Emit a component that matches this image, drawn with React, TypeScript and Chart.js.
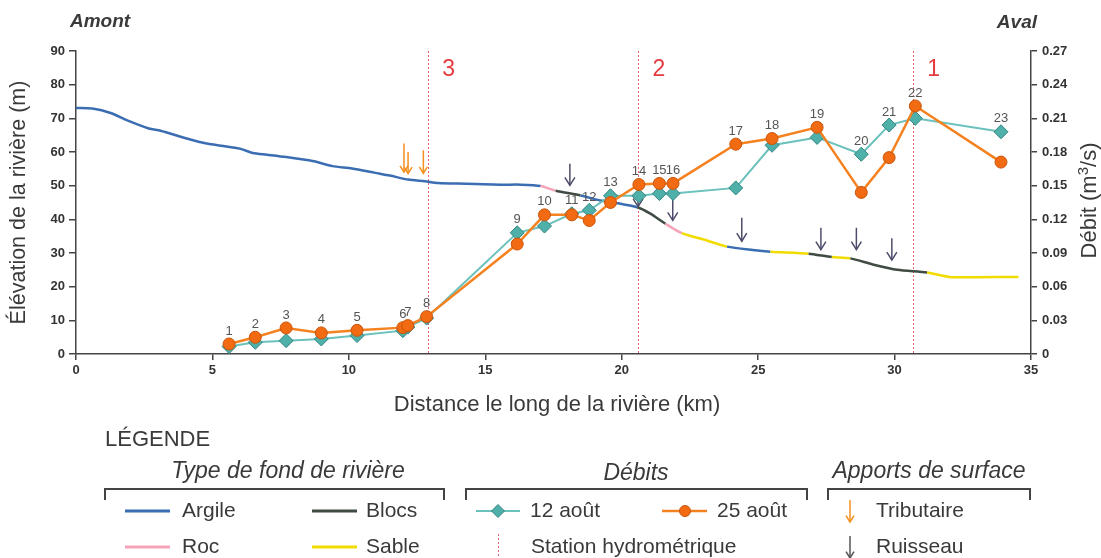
import React, { useEffect, useRef } from 'react';
import { Chart, registerables } from 'chart.js';

Chart.register(...registerables);

// Sampling stations along the river: distance (km) and discharge (m³/s)
const stationNumbers = ['1', '2', '3', '4', '5', '6', '7', '8', '9', '10', '11', '12', '13', '14', '15', '16', '17', '18', '19', '20', '21', '22', '23'];
const stationKm = [5.61, 6.57, 7.7, 8.99, 10.3, 11.98, 12.16, 12.85, 16.17, 17.17, 18.17, 18.81, 19.59, 20.63, 21.38, 21.88, 24.18, 25.51, 27.16, 28.78, 29.8, 30.76, 33.9];
const debit12Aout = [0.0066, 0.0104, 0.0119, 0.0134, 0.0164, 0.0208, 0.024, 0.032, 0.108, 0.114, 0.125, 0.128, 0.141, 0.141, 0.143, 0.143, 0.148, 0.186, 0.193, 0.178, 0.204, 0.21, 0.198];
const debit25Aout = [0.0089, 0.0149, 0.0232, 0.0188, 0.0211, 0.0235, 0.0253, 0.0333, 0.098, 0.124, 0.124, 0.119, 0.135, 0.151, 0.152, 0.152, 0.187, 0.192, 0.202, 0.144, 0.175, 0.221, 0.171];

// Longitudinal profile of the river bed: distance (km), elevation (m), bed type of the following reach
const profileKm = [0, 0.6, 1.27, 1.88, 2.67, 3.1, 4.06, 4.79, 5.4, 6.0, 6.48, 7.0, 7.7, 8.67, 9.4, 10.12, 10.97, 11.5, 12.18, 12.79, 13.27, 14.34, 15.56, 16.3, 17.03, 17.58, 18.49, 19.22, 19.96, 20.57, 21.05, 21.6, 22.2, 23.0, 23.86, 24.8, 25.45, 26.85, 27.7, 28.38, 29.2, 30.1, 31.19, 32.0, 33.0, 34.54];
const profileElev = [73.1, 72.9, 71.6, 69.4, 67.0, 66.3, 64.0, 62.5, 61.8, 61.0, 59.7, 59.2, 58.5, 57.3, 55.8, 55.1, 53.8, 53.0, 51.8, 51.3, 50.8, 50.6, 50.3, 50.3, 49.9, 48.5, 47.1, 45.6, 44.6, 43.6, 41.7, 38.7, 35.9, 34.0, 31.9, 30.9, 30.4, 29.8, 28.8, 28.4, 26.6, 25.0, 24.2, 22.9, 22.8, 22.9];
const profileBed = [
  'argile', 'argile', 'argile', 'argile', 'argile', 'argile', 'argile', 'argile', 'argile', 'argile',
  'argile', 'argile', 'argile', 'argile', 'argile', 'argile', 'argile', 'argile', 'argile', 'argile',
  'argile', 'argile', 'argile', 'argile', 'roc', 'blocs', 'argile', 'argile', 'argile', 'blocs',
  'blocs', 'roc', 'sable', 'sable', 'argile', 'argile', 'sable', 'blocs', 'sable', 'blocs',
  'blocs', 'blocs', 'sable', 'sable', 'sable', 'sable',
];

// Hydrometric stations (km) and their numbers
const hydroStationKm = [12.89, 20.59, 30.66];
const hydroStationLabels = ['3', '2', '1'];

// Surface inflows: km, elevation of arrow tail and tip (m)
const tributaryKm = [12.02, 12.17, 12.73];
const tributaryFrom = [62.5, 60.0, 60.5];
const tributaryTo = [54.0, 53.6, 53.7];
const streamKm = [18.1, 20.6, 21.87, 24.4, 27.3, 28.6, 29.9];
const streamFrom = [56.5, 50.5, 46.1, 40.5, 37.5, 37.5, 34.4];
const streamTo = [50.1, 43.8, 39.7, 33.5, 31.0, 31.0, 27.9];

const FONT = "'Liberation Sans', Arial, sans-serif";
const TEXT = '#3a3a3a';
const AXIS = '#444444';
const BED_COLORS: Record<string, string> = {
  argile: '#3b6db3',
  blocs: '#3f4b43',
  roc: '#f4a3b8',
  sable: '#f2dc00',
};
const TEAL_LINE = '#6bc1bc';
const TEAL_FILL = '#4fb0aa';
const TEAL_EDGE = '#338580';
const ORANGE_LINE = '#f58220';
const ORANGE_FILL = '#f26a12';
const ORANGE_EDGE = '#c9550c';
const STATION_RED = '#e0606e';
const ZONE_RED = '#e53a3f';
const TRIB_ORANGE = '#f5901e';
const STREAM_DARK = '#4d4d6b';

function drawArrow(ctx: CanvasRenderingContext2D, x: number, y0: number, y1: number, color: string, head = 4.5) {
  ctx.save();
  ctx.strokeStyle = color;
  ctx.lineWidth = 1.5;
  ctx.beginPath();
  ctx.moveTo(x, y0);
  ctx.lineTo(x, y1);
  ctx.stroke();
  ctx.beginPath();
  ctx.moveTo(x - head, y1 - head * 1.6);
  ctx.lineTo(x, y1);
  ctx.lineTo(x + head, y1 - head * 1.6);
  ctx.stroke();
  ctx.restore();
}

function drawText(ctx: CanvasRenderingContext2D, text: string, x: number, y: number, font: string, color: string, align: CanvasTextAlign = 'left') {
  ctx.save();
  ctx.font = font;
  ctx.fillStyle = color;
  ctx.textAlign = align;
  ctx.textBaseline = 'middle';
  ctx.fillText(text, x, y);
  ctx.restore();
}

function drawDiamond(ctx: CanvasRenderingContext2D, x: number, y: number, r: number) {
  ctx.beginPath();
  ctx.moveTo(x, y - r);
  ctx.lineTo(x + r, y);
  ctx.lineTo(x, y + r);
  ctx.lineTo(x - r, y);
  ctx.closePath();
  ctx.fillStyle = TEAL_FILL;
  ctx.fill();
  ctx.strokeStyle = TEAL_EDGE;
  ctx.lineWidth = 1;
  ctx.stroke();
}

function drawBracket(ctx: CanvasRenderingContext2D, x0: number, x1: number, y: number) {
  ctx.save();
  ctx.strokeStyle = AXIS;
  ctx.lineWidth = 2;
  ctx.beginPath();
  ctx.moveTo(x0, y + 11);
  ctx.lineTo(x0, y);
  ctx.lineTo(x1, y);
  ctx.lineTo(x1, y + 11);
  ctx.stroke();
  ctx.restore();
}

function legendLine(ctx: CanvasRenderingContext2D, x0: number, x1: number, y: number, color: string, width = 3) {
  ctx.save();
  ctx.strokeStyle = color;
  ctx.lineWidth = width;
  ctx.beginPath();
  ctx.moveTo(x0, y);
  ctx.lineTo(x1, y);
  ctx.stroke();
  ctx.restore();
}

const overlayPlugin = {
  id: 'riverOverlay',
  beforeDatasetsDraw(chart: any) {
    const { ctx, chartArea, scales } = chart;
    const x = scales.x;
    const y = scales.y;
    // hydrometric station lines
    ctx.save();
    ctx.strokeStyle = STATION_RED;
    ctx.lineWidth = 1;
    ctx.setLineDash([2, 2]);
    hydroStationKm.forEach((km) => {
      const px = Math.round(x.getPixelForValue(km)) + 0.5;
      ctx.beginPath();
      ctx.moveTo(px, chartArea.top);
      ctx.lineTo(px, chartArea.bottom);
      ctx.stroke();
    });
    ctx.restore();
    // inflow arrows
    tributaryKm.forEach((km, i) => {
      drawArrow(ctx, x.getPixelForValue(km), y.getPixelForValue(tributaryFrom[i]), y.getPixelForValue(tributaryTo[i]), TRIB_ORANGE, 4);
    });
    streamKm.forEach((km, i) => {
      drawArrow(ctx, x.getPixelForValue(km), y.getPixelForValue(streamFrom[i]), y.getPixelForValue(streamTo[i]), STREAM_DARK, 5);
    });
  },
  afterDatasetsDraw(chart: any) {
    const { ctx, chartArea, scales } = chart;
    const x = scales.x;
    const y1 = scales.y1;
    // station numbers above the higher of the two discharge markers
    stationNumbers.forEach((label, i) => {
      const top = Math.max(debit12Aout[i], debit25Aout[i]);
      drawText(ctx, label, x.getPixelForValue(stationKm[i]), y1.getPixelForValue(top) - 13, `13px ${FONT}`, '#555555', 'center');
    });
    // hydrometric station numbers
    hydroStationKm.forEach((km, i) => {
      drawText(ctx, hydroStationLabels[i], x.getPixelForValue(km) + 21, chartArea.top + 19, `23px ${FONT}`, ZONE_RED, 'center');
    });
  },
  afterDraw(chart: any) {
    const { ctx, chartArea } = chart;
    const midY = (chartArea.top + chartArea.bottom) / 2;

    // header
    drawText(ctx, 'Amont', 70, 22, `italic bold 19px ${FONT}`, TEXT, 'left');
    drawText(ctx, 'Aval', 1037, 23, `italic bold 19px ${FONT}`, TEXT, 'right');

    // axis titles
    ctx.save();
    ctx.translate(19, midY);
    ctx.rotate(-Math.PI / 2);
    drawText(ctx, 'Élévation de la rivière (m)', 0, 0, `21.5px ${FONT}`, TEXT, 'center');
    ctx.restore();

    ctx.save();
    ctx.translate(1090, midY - 2);
    ctx.rotate(-Math.PI / 2);
    ctx.font = `22px ${FONT}`;
    const partA = 'Débit (m';
    const partB = '3';
    const partC = '/s)';
    const wA = ctx.measureText(partA).width;
    const wC = ctx.measureText(partC).width;
    ctx.font = `15px ${FONT}`;
    const wB = ctx.measureText(partB).width;
    const start = -(wA + wB + wC) / 2;
    drawText(ctx, partA, start, 0, `22px ${FONT}`, TEXT, 'left');
    drawText(ctx, partB, start + wA, -6, `15px ${FONT}`, TEXT, 'left');
    drawText(ctx, partC, start + wA + wB, 0, `22px ${FONT}`, TEXT, 'left');
    ctx.restore();

    drawText(ctx, 'Distance le long de la rivière (km)', 557, 405, `22px ${FONT}`, TEXT, 'center');

    // legend
    const item = `21px ${FONT}`;
    const group = `italic 23px ${FONT}`;
    const row1 = 511;
    const row2 = 547;
    drawText(ctx, 'LÉGENDE', 105, 440, `22px ${FONT}`, TEXT, 'left');

    drawText(ctx, 'Type de fond de rivière', 288, 472, group, TEXT, 'center');
    drawBracket(ctx, 105, 444, 489);
    legendLine(ctx, 125, 170, row1, BED_COLORS.argile);
    drawText(ctx, 'Argile', 182, row1, item, TEXT);
    legendLine(ctx, 312, 357, row1, BED_COLORS.blocs);
    drawText(ctx, 'Blocs', 366, row1, item, TEXT);
    legendLine(ctx, 125, 170, row2, BED_COLORS.roc);
    drawText(ctx, 'Roc', 182, row2, item, TEXT);
    legendLine(ctx, 312, 357, row2, BED_COLORS.sable);
    drawText(ctx, 'Sable', 366, row2, item, TEXT);

    drawText(ctx, 'Débits', 636, 474, group, TEXT, 'center');
    drawBracket(ctx, 466, 807, 489);
    legendLine(ctx, 476, 520, row1, TEAL_LINE, 2);
    ctx.save();
    drawDiamond(ctx, 498, row1, 6.5);
    ctx.restore();
    drawText(ctx, '12 août', 530, row1, item, TEXT);
    legendLine(ctx, 662, 707, row1, ORANGE_LINE, 2.5);
    ctx.save();
    ctx.beginPath();
    ctx.arc(685, row1, 5.5, 0, Math.PI * 2);
    ctx.fillStyle = ORANGE_FILL;
    ctx.fill();
    ctx.strokeStyle = ORANGE_EDGE;
    ctx.lineWidth = 1;
    ctx.stroke();
    ctx.restore();
    drawText(ctx, '25 août', 717, row1, item, TEXT);
    ctx.save();
    ctx.strokeStyle = STATION_RED;
    ctx.lineWidth = 1;
    ctx.setLineDash([2, 2]);
    ctx.beginPath();
    ctx.moveTo(498.5, row2 - 13);
    ctx.lineTo(498.5, 558);
    ctx.stroke();
    ctx.restore();
    drawText(ctx, 'Station hydrométrique', 531, row2, item, TEXT);

    drawText(ctx, 'Apports de surface', 929, 472, group, TEXT, 'center');
    drawBracket(ctx, 828, 1030, 489);
    drawArrow(ctx, 850, row1 - 11, row1 + 11, TRIB_ORANGE, 4);
    drawText(ctx, 'Tributaire', 876, row1, item, TEXT);
    drawArrow(ctx, 850, row2 - 11, row2 + 11, '#555555', 4);
    drawText(ctx, 'Ruisseau', 876, row2, item, TEXT);
  },
};

const tickFont = { family: FONT, size: 13, weight: 'bold' as const };

export default function App() {
  const canvasRef = useRef<HTMLCanvasElement>(null);

  useEffect(() => {
    const canvas = canvasRef.current;
    if (!canvas) return;

    const elevationData = profileKm.map((km, i) => ({ x: km, y: profileElev[i] }));
    const data12 = stationKm.map((km, i) => ({ x: km, y: debit12Aout[i] }));
    const data25 = stationKm.map((km, i) => ({ x: km, y: debit25Aout[i] }));

    const axisGrid = {
      drawOnChartArea: false,
      drawTicks: true,
      tickLength: 7,
      color: AXIS,
      lineWidth: 1.5,
    };
    const axisBorder = { display: true, color: AXIS, width: 1.5 };

    const chart = new Chart(canvas, {
      type: 'line',
      data: {
        datasets: [
          {
            label: '25 août',
            data: data25,
            yAxisID: 'y1',
            borderColor: ORANGE_LINE,
            borderWidth: 2.5,
            pointStyle: 'circle',
            pointRadius: 6,
            pointBackgroundColor: ORANGE_FILL,
            pointBorderColor: ORANGE_EDGE,
            pointBorderWidth: 1,
            tension: 0,
          },
          {
            label: '12 août',
            data: data12,
            yAxisID: 'y1',
            borderColor: TEAL_LINE,
            borderWidth: 2,
            pointStyle: 'rectRot',
            pointRadius: 7,
            pointBackgroundColor: TEAL_FILL,
            pointBorderColor: TEAL_EDGE,
            pointBorderWidth: 1,
            tension: 0,
          },
          {
            label: 'Élévation',
            data: elevationData,
            yAxisID: 'y',
            borderColor: BED_COLORS.argile,
            borderWidth: 2.5,
            pointRadius: 0,
            tension: 0.25,
            segment: {
              borderColor: (c: any) => BED_COLORS[profileBed[c.p0DataIndex]],
            },
          },
        ],
      },
      options: {
        responsive: false,
        animation: false,
        devicePixelRatio: 1,
        events: [],
        layout: { padding: { top: 51, left: 0, right: 0, bottom: 0 } },
        plugins: {
          legend: { display: false },
          tooltip: { enabled: false },
        },
        scales: {
          x: {
            type: 'linear',
            min: 0,
            max: 35,
            grid: { ...axisGrid, tickLength: 6 },
            border: axisBorder,
            ticks: { stepSize: 5, font: tickFont, color: '#333', padding: 3, maxRotation: 0 },
            afterFit: (s: any) => {
              s.height = 204;
            },
          },
          y: {
            type: 'linear',
            position: 'left',
            min: 0,
            max: 90,
            grid: axisGrid,
            border: axisBorder,
            ticks: { stepSize: 10, font: tickFont, color: '#333', padding: 4 },
            afterFit: (s: any) => {
              s.width = 76;
            },
          },
          y1: {
            type: 'linear',
            position: 'right',
            min: 0,
            max: 0.27,
            grid: { ...axisGrid, tickLength: 6 },
            border: axisBorder,
            ticks: {
              stepSize: 0.03,
              font: tickFont,
              color: '#333',
              padding: 5,
              callback: (v: any) => (Number(v) === 0 ? '0' : Number(v).toFixed(2)),
            },
            afterFit: (s: any) => {
              s.width = 70;
            },
          },
        },
      } as any,
      plugins: [overlayPlugin],
    });

    return () => chart.destroy();
  }, []);

  return (
    <div style={{ position: 'fixed', left: 0, top: 0, width: 1101, height: 558, background: '#ffffff' }}>
      <canvas ref={canvasRef} width={1101} height={558} style={{ display: 'block', width: 1101, height: 558 }} />
    </div>
  );
}
